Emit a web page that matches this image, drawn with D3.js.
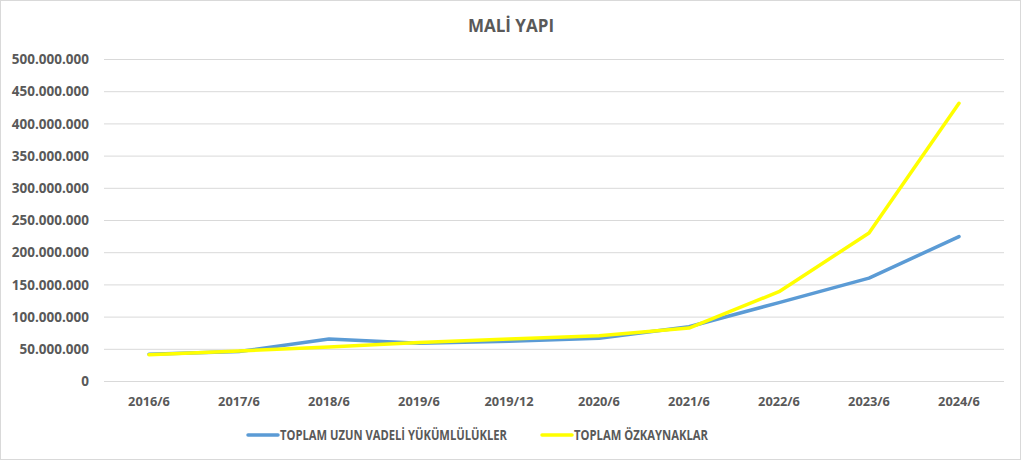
<!DOCTYPE html>
<meta charset="utf-8">
<script src="https://d3js.org/d3.v7.min.js"></script>
<style>
  body { margin: 0; background: #fff; }
  text { font-family: "Open Sans", "Noto Sans", sans-serif; font-weight: bold; fill: #595959; }
</style>
<div id="chart"></div>
<script>
// data
const periods = ["2016/6", "2017/6", "2018/6", "2019/6", "2019/12", "2020/6", "2021/6", "2022/6", "2023/6", "2024/6"];
const uzunVadeli = [42500000, 46500000, 66000000, 59500000, 62500000, 67000000, 85000000, 122500000, 160500000, 225000000];
const ozkaynaklar = [41500000, 47500000, 53500000, 60500000, 66000000, 71000000, 83000000, 139500000, 230500000, 432000000];
const yTicks = [0, 50000000, 100000000, 150000000, 200000000, 250000000, 300000000, 350000000, 400000000, 450000000, 500000000];
const seriesNames = ["TOPLAM UZUN VADELİ YÜKÜMLÜLÜKLER", "TOPLAM ÖZKAYNAKLAR"];

const W = 1024, H = 461;

const svg = d3.select("#chart").append("svg")
  .attr("width", W).attr("height", H);

// outer frame
svg.append("rect")
  .attr("x", 0.5).attr("y", 0.5)
  .attr("width", 1020).attr("height", 459)
  .attr("fill", "#fff").attr("stroke", "#d9d9d9");

const x = d3.scaleBand().domain(periods).range([104, 1004]);
const y = d3.scaleLinear().domain([0, 500000000]).range([381.5, 59.5]);

const fmt = v => d3.format(",")(v).replace(/,/g, ".");

// grid
svg.append("g").selectAll("line").data(yTicks).join("line")
  .attr("x1", 104).attr("x2", 1004)
  .attr("y1", d => y(d)).attr("y2", d => y(d))
  .attr("stroke", "#d9d9d9").attr("stroke-width", 1);

// y labels
svg.append("g").selectAll("text").data(yTicks).join("text")
  .attr("x", 89).attr("y", d => y(d))
  .attr("dy", "0.35em")
  .attr("text-anchor", "end")
  .style("font-size", "13.5px")
  .text(fmt);

// x labels
svg.append("g").selectAll("text").data(periods).join("text")
  .attr("x", d => x(d) + x.bandwidth() / 2).attr("y", 402)
  .attr("dy", "0.35em")
  .attr("text-anchor", "middle")
  .style("font-size", "12.8px")
  .text(d => d);

const line = d3.line()
  .x((d, i) => x(periods[i]) + x.bandwidth() / 2)
  .y(d => y(d));

svg.append("path").datum(uzunVadeli)
  .attr("d", line).attr("fill", "none")
  .attr("stroke", "#5b9bd5").attr("stroke-width", 3.5)
  .attr("stroke-linejoin", "round").attr("stroke-linecap", "round");

svg.append("path").datum(ozkaynaklar)
  .attr("d", line).attr("fill", "none")
  .attr("stroke", "#ffff00").attr("stroke-width", 3.5)
  .attr("stroke-linejoin", "round").attr("stroke-linecap", "round");

// title
svg.append("text")
  .attr("x", 511).attr("y", 26)
  .attr("dy", "0.35em")
  .attr("text-anchor", "middle")
  .style("font-size", "17px")
  .text("MALİ YAPI");

// legend
const legend = [
  {name: seriesNames[0], color: "#5b9bd5", x: 248, w: 227},
  {name: seriesNames[1], color: "#ffff00", x: 542, w: 134}
];
const lg = svg.append("g").selectAll("g").data(legend).join("g")
  .attr("transform", d => `translate(${d.x},435)`);
lg.append("line")
  .attr("x1", 0).attr("x2", 30)
  .attr("stroke", d => d.color).attr("stroke-width", 3.5)
  .attr("stroke-linecap", "round");
lg.append("text")
  .attr("x", 32).attr("dy", "0.35em")
  .attr("textLength", d => d.w)
  .attr("lengthAdjust", "spacingAndGlyphs")
  .style("font-size", "13.5px")
  .text(d => d.name);
</script>
